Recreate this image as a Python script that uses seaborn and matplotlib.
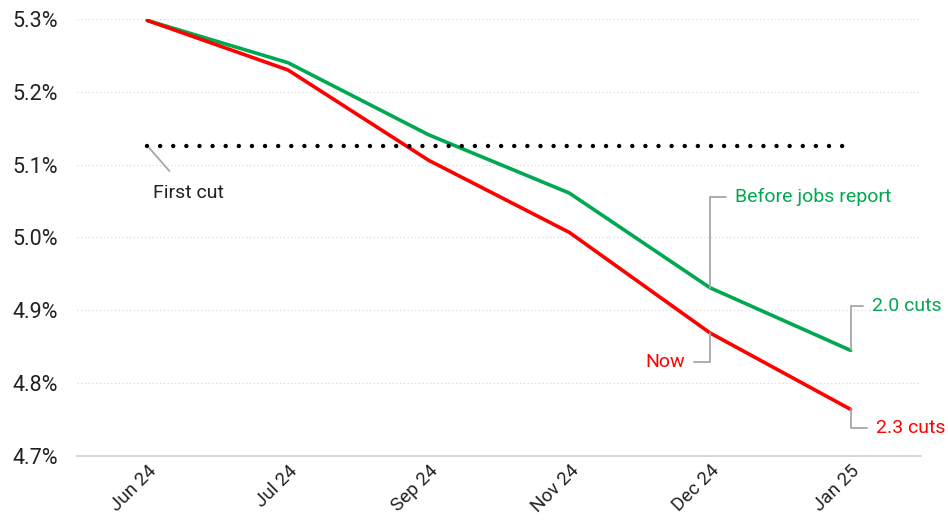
import numpy as np
import pandas as pd
import matplotlib
matplotlib.use("Agg")
import matplotlib.pyplot as plt
import seaborn as sns

months = ["Jun 24", "Jul 24", "Sep 24", "Nov 24", "Dec 24", "Jan 25"]
before_jobs = [5.298, 5.240, 5.141, 5.061, 4.931, 4.845]
now = [5.298, 5.230, 5.106, 5.007, 4.869, 4.764]
first_cut = [5.126] * len(months)
yticks = [4.7, 4.8, 4.9, 5.0, 5.1, 5.2, 5.3]

GREEN = "#00A84F"
RED = "#FF0000"
GRAY = "#A6A6A6"

sns.set_theme(style="white")
plt.rcParams["font.family"] = ["Roboto", "DejaVu Sans"]

pos = np.arange(len(months))
df = pd.DataFrame({
    "pos": np.concatenate([pos, pos]),
    "rate": before_jobs + now,
    "series": ["Before jobs report"] * len(months) + ["Now"] * len(months),
})

fig = plt.figure(figsize=(9.48, 5.22), dpi=100)
ax = fig.add_axes([77 / 948, 66 / 522, 844 / 948, 437 / 522])

sns.lineplot(data=df, x="pos", y="rate", hue="series",
             palette={"Before jobs report": GREEN, "Now": RED},
             linewidth=2.6, ax=ax, legend=False, sort=False)
ax.plot(pos, first_cut, color="black", linewidth=3.2,
        linestyle=(0, (0.001, 2.95)), dash_capstyle="round")

ax.set_xlim(-0.5, len(months) - 0.5)
ax.set_ylim(4.7, 5.3)
ax.set_yticks(yticks)
ax.set_yticklabels([f"{v:.1f}%" for v in yticks], fontsize=15.5, color="#222222")
ax.set_xticks(pos)
ax.set_xticklabels(months, rotation=45, ha="right", rotation_mode="anchor",
                   fontsize=13.5, color="#222222")
ax.set_xticks(np.arange(-0.5, len(months)), minor=True)
ax.tick_params(axis="x", which="major", length=0, pad=4)
ax.tick_params(axis="x", which="minor", length=5, color="#D0D0D0", width=1, direction="in")
ax.tick_params(axis="y", length=0, pad=14)
ax.set_xlabel("")
ax.set_ylabel("")

for v in yticks[1:]:
    ax.axhline(v, color="#D9D9D9", linewidth=0.9, linestyle=(0, (1, 2)), zorder=0)

for s in ["left", "right", "top"]:
    ax.spines[s].set_visible(False)
ax.spines["bottom"].set_color("#D0D0D0")
ax.spines["bottom"].set_linewidth(1.2)

elbow = dict(arrowstyle="-", color=GRAY, lw=1.3, shrinkA=4, shrinkB=0,
             connectionstyle="angle,angleA=0,angleB=90,rad=0")

fs = 14
ax.annotate("Before jobs report", xy=(pos[4], before_jobs[4]), xytext=(25, 91),
            textcoords="offset pixels", ha="left", va="center", fontsize=fs,
            color=GREEN, arrowprops=elbow)
ax.annotate("Now", xy=(pos[4], now[4]), xytext=(-25, -29),
            textcoords="offset pixels", ha="right", va="center", fontsize=fs,
            color=RED, arrowprops=elbow)
ax.annotate("2.0 cuts", xy=(pos[5], before_jobs[5]), xytext=(21, 44),
            textcoords="offset pixels", ha="left", va="center", fontsize=fs,
            color=GREEN, arrowprops=elbow)
ax.annotate("2.3 cuts", xy=(pos[5], now[5]), xytext=(25, -19),
            textcoords="offset pixels", ha="left", va="center", fontsize=fs,
            color=RED, arrowprops=elbow)
ax.annotate("First cut", xy=(pos[0], first_cut[0]), xytext=(41, -47),
            textcoords="offset pixels", ha="center", va="center", fontsize=fs,
            color="#222222",
            arrowprops=dict(arrowstyle="-", color=GRAY, lw=1.3, shrinkA=9, shrinkB=2))

fig.savefig("out.png", dpi=100)
